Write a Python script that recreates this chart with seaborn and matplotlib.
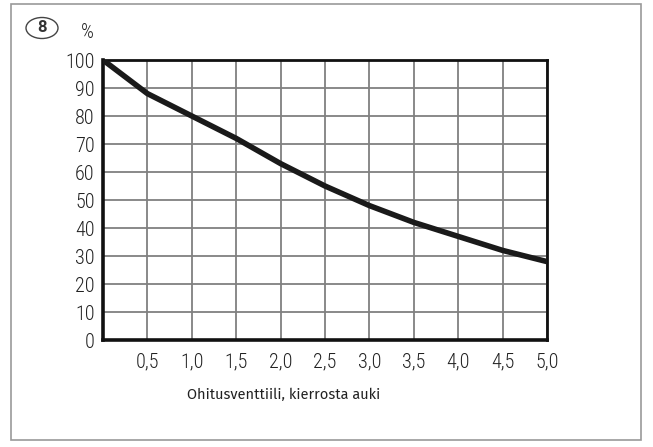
import matplotlib
matplotlib.use("Agg")
import matplotlib.pyplot as plt
import seaborn as sns
import pandas as pd
from matplotlib.patches import Rectangle, Ellipse

turns = [0.0, 0.5, 1.0, 1.5, 2.0, 2.5, 3.0, 3.5, 4.0, 4.5, 5.0]
percent = [100, 88, 80, 72, 63, 55, 48, 42, 37, 32, 28]
x_ticks = [0.5, 1.0, 1.5, 2.0, 2.5, 3.0, 3.5, 4.0, 4.5, 5.0]
x_tick_labels = ["0,5", "1,0", "1,5", "2,0", "2,5", "3,0", "3,5", "4,0", "4,5", "5,0"]
y_ticks = [0, 10, 20, 30, 40, 50, 60, 70, 80, 90, 100]

sns.set_theme(style="white")
plt.rcParams['font.family'] = ['Roboto Condensed', 'DejaVu Sans']

W, H = 653, 447
fig = plt.figure(figsize=(W / 100, H / 100), dpi=100)
ax = fig.add_axes([103 / W, 1 - 340 / H, (547 - 103) / W, (340 - 60) / H])

df = pd.DataFrame({"turns": turns, "percent": percent})
sns.lineplot(data=df, x="turns", y="percent", ax=ax, color="#1a1a1a", lw=4,
             solid_capstyle="butt", zorder=5)

ax.set_xlim(0, 5)
ax.set_ylim(0, 100)
ax.set_xticks(x_ticks)
ax.set_xticklabels(x_tick_labels)
ax.set_yticks(y_ticks)
ax.tick_params(axis="both", length=0, labelsize=14.5, colors="#222222")
ax.tick_params(axis="x", pad=9)
ax.tick_params(axis="y", pad=6)
for lab in ax.get_xticklabels() + ax.get_yticklabels():
    lab.set_fontweight("light")
ax.set_xlabel("")
ax.set_ylabel("")
ax.grid(True, color="#808080", lw=1.3)
for s in ["left", "bottom"]:
    ax.spines[s].set_linewidth(2.6)
    ax.spines[s].set_color("#111111")
for s in ["top", "right"]:
    ax.spines[s].set_linewidth(2.0)
    ax.spines[s].set_color("#111111")
ax.set_axisbelow(True)

# outer border
fig.patches.append(Rectangle((11 / W, 1 - 440 / H), (641 - 11) / W, (440 - 4) / H,
                             transform=fig.transFigure, fill=False,
                             edgecolor="#999999", lw=1.2))
fig.patches.append(Ellipse((42 / W, 1 - 28 / H), 32 / W, 21 / H,
                           transform=fig.transFigure, fill=False,
                           edgecolor="#444444", lw=1.0))
fig.text(42 / W, 1 - 28 / H, "8", ha="center", va="center", fontsize=12,
         fontweight="bold", color="#333333", family=["Roboto", "DejaVu Sans"])
fig.text(87 / W, 1 - 33 / H, "%", ha="center", va="center", fontsize=14.5,
         fontweight="light", color="#222222")
fig.text(187 / W, 1 - 395 / H, "Ohitusventtiili, kierrosta auki", ha="left", va="center",
         fontsize=10.5, color="#222222", family=["Fira Sans", "Open Sans", "DejaVu Sans"])

fig.savefig("out.png", dpi=100)
